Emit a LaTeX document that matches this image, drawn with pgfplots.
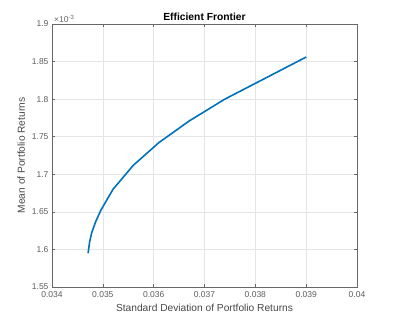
\documentclass[border=0pt]{standalone}
\usepackage{pgfplots}
\pgfplotsset{compat=1.18}
\usepackage{fontspec}
\setmainfont{Liberation Sans}
\definecolor{mblue}{rgb}{0,0.447,0.741}
\definecolor{axgray}{rgb}{0.15,0.15,0.15}
\begin{document}
\begin{tikzpicture}
\useasboundingbox (-52pt,-36pt) rectangle (344pt,287pt);
\begin{axis}[
  at={(0,0)}, anchor=south west,
  width=305pt, height=263pt, scale only axis,
  xmin=0.034, xmax=0.04, ymin=1.55, ymax=1.9,
  xtick={0.034,0.035,...,0.0405},
  ytick={1.55,1.6,...,1.91},
  xticklabels={0.034,0.035,0.036,0.037,0.038,0.039,0.04},
  yticklabels={1.55,1.6,1.65,1.7,1.75,1.8,1.85,1.9},
  scaled ticks=false,
  tick align=inside,
  major tick length=3pt,
  axis line style={axgray!70, line width=0.5pt},
  tick style={axgray!70, line width=0.5pt},
  grid=major,
  major grid style={gray!20, line width=0.5pt},
  ticklabel style={font=\fontsize{8.5}{9}\selectfont, text=axgray!75},
  xticklabel style={yshift=-1pt},
  xlabel={Standard Deviation of Portfolio Returns},
  ylabel={Mean of Portfolio Returns},
  label style={font=\fontsize{10.2}{11}\selectfont, text=axgray!85},
  xlabel style={yshift=0pt},
  ylabel style={yshift=0pt},
  title={\textbf{Efficient Frontier}},
  title style={font=\fontsize{10.3}{11}\selectfont, yshift=-6pt},
  clip=false,
]
\addplot[mblue, line width=1.6pt, line join=round] coordinates {
(0.03471,1.595)
(0.03474,1.610)
(0.03478,1.622)
(0.03486,1.637)
(0.03496,1.652)
(0.03520,1.680)
(0.03560,1.712)
(0.03610,1.742)
(0.03670,1.771)
(0.03740,1.800)
(0.03820,1.828)
(0.03900,1.856)
};
\node[anchor=south west, font=\fontsize{8.5}{9}\selectfont, text=axgray!70, inner sep=1pt, xshift=1pt] at (rel axis cs:0,1) {×10\textsuperscript{-3}};
\end{axis}
\end{tikzpicture}
\end{document}
